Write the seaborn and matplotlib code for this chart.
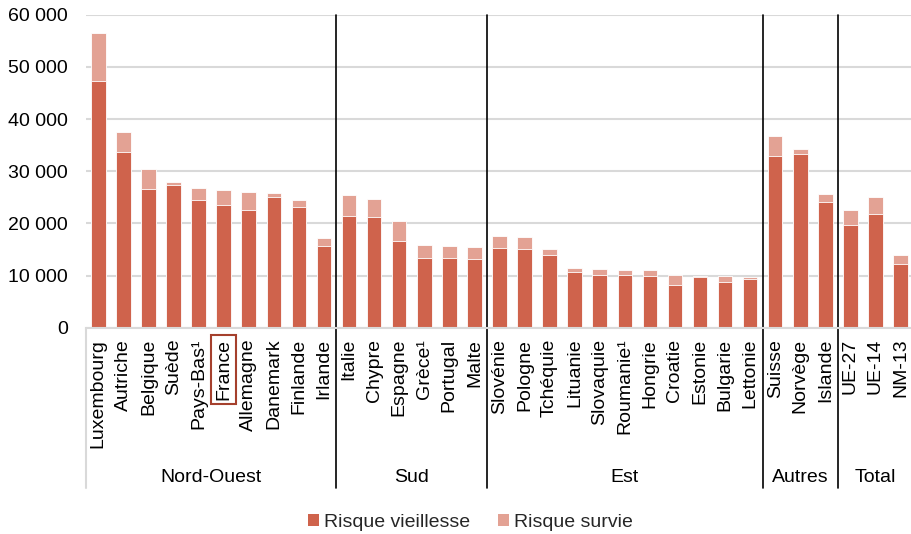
import matplotlib
matplotlib.use("Agg")
import matplotlib.pyplot as plt
import seaborn as sns
import pandas as pd
from matplotlib.ticker import FuncFormatter, MultipleLocator
from matplotlib.patches import Patch

# ---- data ----
categories = ["Luxembourg", "Autriche", "Belgique", "Suède", "Pays-Bas¹", "France",
              "Allemagne", "Danemark", "Finlande", "Irlande",
              "Italie", "Chypre", "Espagne", "Grèce¹", "Portugal", "Malte",
              "Slovénie", "Pologne", "Tchéquie", "Lituanie", "Slovaquie", "Roumanie¹",
              "Hongrie", "Croatie", "Estonie", "Bulgarie", "Lettonie",
              "Suisse", "Norvège", "Islande",
              "UE-27", "UE-14", "NM-13"]
vieillesse = [47300, 33700, 26650, 27400, 24550, 23500, 22550, 25100, 23200, 15700,
              21500, 21200, 16700, 13350, 13400, 13250,
              15300, 15050, 14000, 10750, 10150, 10150, 9950, 8200, 9750, 8750, 9350,
              33000, 33350, 24100,
              19700, 21800, 12200]
total = [56550, 37500, 30400, 27900, 26700, 26350, 26000, 25750, 24550, 17200,
         25450, 24600, 20450, 15850, 15650, 15450,
         17600, 17400, 15050, 11400, 11200, 11050, 11000, 10100, 9850, 9850, 9650,
         36750, 34200, 25650,
         22550, 25050, 13850]
survie = [t - v for t, v in zip(total, vieillesse)]
groups = ["Nord-Ouest", "Sud", "Est", "Autres", "Total"]
group_sizes = [10, 6, 11, 3, 3]
series_names = ["Risque vieillesse", "Risque survie"]

dark = "#CF634C"
light = "#E3A294"

df = pd.DataFrame({"pays": categories, "vieillesse": vieillesse,
                   "survie": survie, "total": total})

sns.set_theme(style="white")
plt.rcParams["font.family"] = ["Liberation Sans", "DejaVu Sans"]

fig = plt.figure(figsize=(9.12, 5.34), dpi=100)
ax = fig.add_axes([85.8 / 912, (534 - 327.7) / 534, 827.3 / 912, 313 / 534])

sns.barplot(data=df, x="pays", y="total", color=light, saturation=1, width=0.58,
            edgecolor="white", linewidth=0.6, ax=ax)
sns.barplot(data=df, x="pays", y="vieillesse", color=dark, saturation=1, width=0.58,
            edgecolor="white", linewidth=0.6, ax=ax)

ax.set_xlim(-0.5, len(categories) - 0.5)
ax.set_ylim(0, 60000)
ax.yaxis.set_major_locator(MultipleLocator(10000))
ax.yaxis.set_major_formatter(FuncFormatter(lambda v, p: f"{int(v):,}".replace(",", " ")))
ax.grid(axis="y", color="#d9d9d9", linewidth=1.5)
ax.set_axisbelow(True)
for s in ["top", "right", "left"]:
    ax.spines[s].set_visible(False)
ax.spines["bottom"].set_color("#d9d9d9")
ax.spines["bottom"].set_linewidth(1.5)
ax.set_xlabel("")
ax.set_ylabel("")
ax.tick_params(axis="y", length=0, pad=13, labelsize=14, labelcolor="black")
ax.tick_params(axis="x", length=0, pad=8, labelsize=14, labelcolor="black")
ax.set_xticks(range(len(categories)))
ax.set_xticklabels(categories, rotation=90, ha="center", va="top")

for lab in ax.get_xticklabels():
    if lab.get_text() == "France":
        lab.set_bbox(dict(boxstyle="square,pad=0.2", facecolor="none",
                          edgecolor="#A5402D", linewidth=1.5))

# group separators and labels
trans = ax.get_xaxis_transform()
y_bottom = (327.7 - 488) / 313
y_label = (327.7 - 477) / 313
ax.plot([-0.5, -0.5], [0, y_bottom], color="#d9d9d9", lw=1.5, transform=trans, clip_on=False)
start = 0
for i, (g, n) in enumerate(zip(groups, group_sizes)):
    end = start + n
    ax.text((start + end - 1) / 2, y_label, g, transform=trans, ha="center", va="center",
            fontsize=14, color="black")
    if i < len(groups) - 1:
        ax.plot([end - 0.5, end - 0.5], [1.0, y_bottom], color="black", lw=1.2,
                transform=trans, clip_on=False)
    start = end

handles = [Patch(facecolor=dark, edgecolor="none"), Patch(facecolor=light, edgecolor="none")]
fig.legend(handles, series_names, loc="center", bbox_to_anchor=(0.516, 0.022), ncol=2,
           frameon=False, fontsize=14, handlelength=0.55, handleheight=0.55,
           handletextpad=0.3, columnspacing=1.4)

fig.savefig("out.png", dpi=100)
